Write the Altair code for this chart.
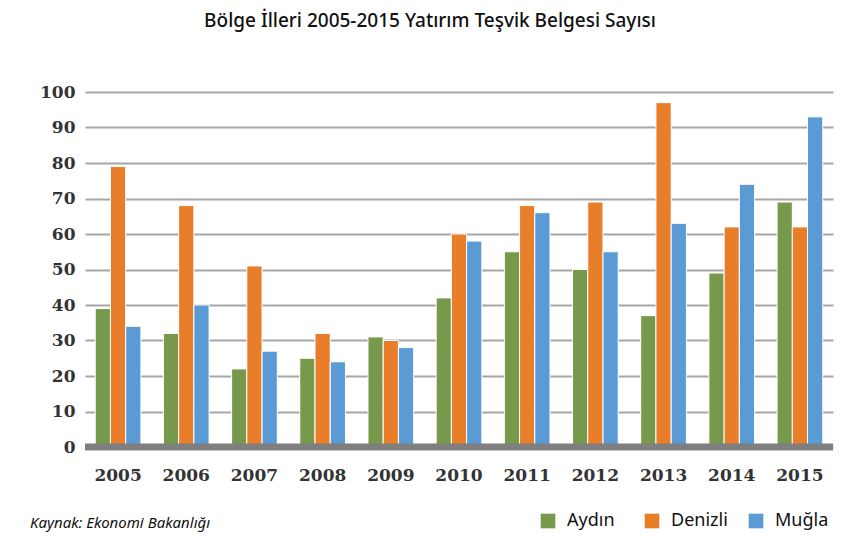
import altair as alt
import pandas as pd

years = ["2005", "2006", "2007", "2008", "2009", "2010", "2011", "2012", "2013", "2014", "2015"]
series = ["Aydın", "Denizli", "Muğla"]
aydin = [39, 32, 22, 25, 31, 42, 55, 50, 37, 49, 69]
denizli = [79, 68, 51, 32, 30, 60, 68, 69, 97, 62, 62]
mugla = [34, 40, 27, 24, 28, 58, 66, 55, 63, 74, 93]
y_ticks = [0, 10, 20, 30, 40, 50, 60, 70, 80, 90, 100]
colors = ["#77994B", "#E87D2A", "#5B9BD5"]
title_text = "Bölge İlleri 2005-2015 Yatırım Teşvik Belgesi Sayısı"
source_text = "Kaynak: Ekonomi Bakanlığı"

rows = []
for s, vals in zip(series, [aydin, denizli, mugla]):
    for y, v in zip(years, vals):
        rows.append({"Yıl": y, "İl": s, "Sayı": v})
df = pd.DataFrame(rows)

W, H = 748, 355

y_scale = alt.Scale(domain=[0, 100], nice=False)
y_axis = alt.Axis(title=None, values=y_ticks, labelOverlap=False,
                  ticks=False, domain=False, grid=True, gridColor="#A6A6A6", gridWidth=2,
                  labelFont="DejaVu Serif", labelFontWeight="bold",
                  labelFontSize=17, labelColor="#333333", labelPadding=10)

x = alt.X("Yıl:N", sort=years,
          scale=alt.Scale(paddingInner=0.33, paddingOuter=0.15),
          axis=alt.Axis(title=None, labelAngle=0, ticks=False, domain=False,
                        labelFont="DejaVu Serif", labelFontWeight="bold",
                        labelFontSize=17, labelColor="#333333", labelPadding=20))

bars = alt.Chart(df).mark_bar(stroke="white", strokeWidth=1).encode(
    x=x,
    xOffset=alt.XOffset("İl:N", sort=series),
    y=alt.Y("Sayı:Q", scale=y_scale, axis=y_axis),
    color=alt.Color("İl:N", sort=series,
                    scale=alt.Scale(domain=series, range=colors),
                    legend=alt.Legend(title=None, orient="none", direction="horizontal",
                                      legendX=454, legendY=420,
                                      columns=3, gridAlign="all", columnPadding=19,
                                      symbolType="square", symbolSize=215,
                                      symbolStrokeWidth=0, symbolOpacity=1,
                                      labelFont="Noto Sans", labelFontSize=18,
                                      labelColor="#111111", labelOffset=10,
                                      labelLimit=200)),
)

floor_df = pd.DataFrame({"Sayı": [0]})
floor = alt.Chart(floor_df).mark_rule(color="#7F7F7F", strokeWidth=7).encode(
    y=alt.Y("Sayı:Q", scale=y_scale, axis=y_axis))

title = alt.Chart(pd.DataFrame({"t": [title_text]})).mark_text(
    font="Noto Sans", fontSize=19, fontWeight=500, color="#111111", align="center",
    baseline="alphabetic").encode(text="t:N", x=alt.value(430 - 85), y=alt.value(27 - 92))

source = alt.Chart(pd.DataFrame({"t": [source_text]})).mark_text(
    font="Noto Sans", fontSize=15, fontStyle="italic", color="#111111", align="left",
    baseline="middle").encode(text="t:N", x=alt.value(30 - 85), y=alt.value(523 - 92))

chart = alt.layer(bars, floor, title, source).properties(
    width=W, height=H,
    padding={"left": 77, "top": 84, "right": 4, "bottom": 92},
    autosize=alt.AutoSizeParams(type="none"),
).configure_view(stroke=None)

chart.save("out.html", embed_options={"renderer": "svg", "actions": False})
